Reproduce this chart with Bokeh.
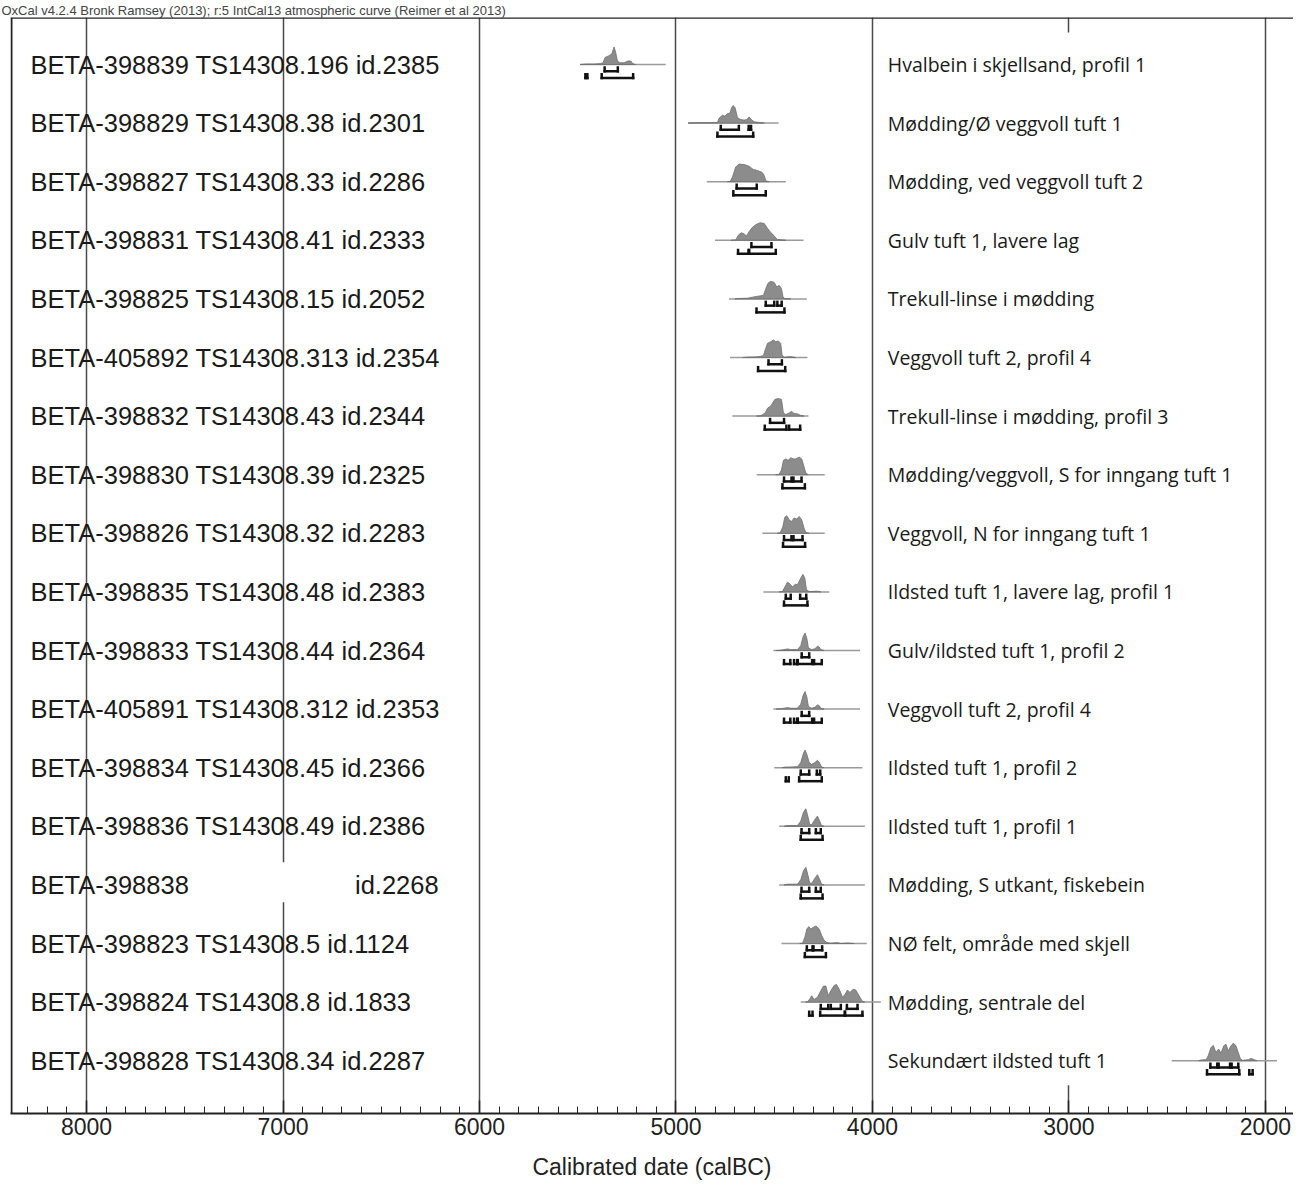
from bokeh.plotting import figure
from bokeh.models import Range1d, FixedTicker, Span
from bokeh.core.properties import value
from bokeh.embed import file_html
from bokeh.resources import INLINE

header = "OxCal v4.2.4 Bronk Ramsey (2013); r:5 IntCal13 atmospheric curve (Reimer et al 2013)"
axis_title = "Calibrated date (calBC)"
tick_years = [8000, 7000, 6000, 5000, 4000, 3000, 2000]
minor_years = list(range(1900, 8400, 100))

lab_left = [
    "BETA-398839 TS14308.196 id.2385",
    "BETA-398829 TS14308.38 id.2301",
    "BETA-398827 TS14308.33 id.2286",
    "BETA-398831 TS14308.41 id.2333",
    "BETA-398825 TS14308.15 id.2052",
    "BETA-405892 TS14308.313 id.2354",
    "BETA-398832 TS14308.43 id.2344",
    "BETA-398830 TS14308.39 id.2325",
    "BETA-398826 TS14308.32 id.2283",
    "BETA-398835 TS14308.48 id.2383",
    "BETA-398833 TS14308.44 id.2364",
    "BETA-405891 TS14308.312 id.2353",
    "BETA-398834 TS14308.45 id.2366",
    "BETA-398836 TS14308.49 id.2386",
    "BETA-398838",
    "BETA-398823 TS14308.5 id.1124",
    "BETA-398824 TS14308.8 id.1833",
    "BETA-398828 TS14308.34 id.2287",
]
lab_left_extra = "id.2268"   # right-hand part of row 15
lab_right = [
    "Hvalbein i skjellsand, profil 1",
    "Mødding/Ø veggvoll tuft 1",
    "Mødding, ved veggvoll tuft 2",
    "Gulv tuft 1, lavere lag",
    "Trekull-linse i mødding",
    "Veggvoll tuft 2, profil 4",
    "Trekull-linse i mødding, profil 3",
    "Mødding/veggvoll, S for inngang tuft 1",
    "Veggvoll, N for inngang tuft 1",
    "Ildsted tuft 1, lavere lag, profil 1",
    "Gulv/ildsted tuft 1, profil 2",
    "Veggvoll tuft 2, profil 4",
    "Ildsted tuft 1, profil 2",
    "Ildsted tuft 1, profil 1",
    "Mødding, S utkant, fiskebein",
    "NØ felt, område med skjell",
    "Mødding, sentrale del",
    "Sekundært ildsted tuft 1",
]

base_start = [5488, 4938, 4843, 4801, 4730, 4725, 4713, 4589, 4560, 4555, 4504, 4504, 4500, 4475, 4475, 4463, 4365, 2477]
base_end = [5052, 4478, 4441, 4351, 4334, 4331, 4326, 4243, 4243, 4220, 4063, 4063, 4051, 4039, 4039, 4029, 3957, 1941]

dist_years = [
    [5488, 5459, 5417, 5383, 5371, 5361, 5341, 5327, 5315, 5307, 5298, 5285, 5264, 5244, 5230, 5220, 5205],
    [4938, 4891, 4823, 4789, 4781, 4764, 4752, 4738, 4725, 4716, 4709, 4699, 4687, 4670, 4653, 4640, 4628, 4616, 4602, 4577, 4551],
    [4738, 4724, 4713, 4696, 4679, 4653, 4628, 4606, 4589, 4577, 4565, 4555, 4548, 4543, 4526],
    [4720, 4696, 4682, 4667, 4653, 4641, 4628, 4611, 4594, 4572, 4551, 4534, 4521, 4509, 4497, 4484, 4458, 4440],
    [4700, 4687, 4636, 4611, 4585, 4555, 4543, 4531, 4517, 4500, 4487, 4475, 4463, 4455, 4446, 4416],
    [4660, 4636, 4585, 4555, 4546, 4534, 4517, 4504, 4492, 4480, 4467, 4460, 4450, 4430, 4416, 4390],
    [4590, 4568, 4546, 4534, 4517, 4497, 4480, 4463, 4453, 4441, 4424, 4412, 4399, 4382, 4365, 4348],
    [4492, 4475, 4463, 4453, 4441, 4429, 4416, 4402, 4390, 4373, 4360, 4348, 4339, 4327],
    [4484, 4470, 4456, 4446, 4436, 4424, 4412, 4399, 4385, 4373, 4360, 4348, 4339, 4322],
    [4475, 4458, 4446, 4432, 4419, 4407, 4393, 4382, 4368, 4354, 4344, 4336, 4322, 4280, 4263],
    [4490, 4466, 4450, 4432, 4416, 4382, 4365, 4353, 4343, 4334, 4326, 4310, 4293, 4280, 4271, 4263, 4246],
    [4490, 4466, 4450, 4432, 4416, 4382, 4365, 4353, 4343, 4334, 4326, 4310, 4293, 4280, 4271, 4263, 4246],
    [4460, 4441, 4416, 4382, 4365, 4351, 4343, 4334, 4322, 4310, 4293, 4280, 4270, 4259, 4246],
    [4450, 4432, 4382, 4365, 4351, 4339, 4331, 4319, 4309, 4293, 4280, 4268, 4259, 4246],
    [4450, 4432, 4382, 4365, 4351, 4339, 4331, 4319, 4309, 4293, 4280, 4268, 4259, 4246],
    [4370, 4356, 4344, 4334, 4324, 4314, 4302, 4287, 4271, 4258, 4246, 4232, 4212, 4178, 4161, 4127, 4093],
    [4340, 4331, 4319, 4309, 4297, 4280, 4263, 4249, 4237, 4225, 4212, 4195, 4183, 4169, 4152, 4139, 4127, 4115, 4098, 4085, 4068, 4051, 4039],
    [2340, 2328, 2302, 2291, 2277, 2265, 2252, 2238, 2226, 2212, 2201, 2189, 2175, 2163, 2150, 2138, 2128, 2116, 2087, 2073, 2056, 2043],
]
dist_dens = [
    [0, 0.03, 0.03, 0.05, 0.1, 0.4, 0.5, 0.6, 1.0, 0.7, 0.2, 0.1, 0.1, 0.2, 0.2, 0.05, 0],
    [0, 0.02, 0.02, 0.03, 0.27, 0.45, 0.4, 0.54, 0.57, 0.9, 1.0, 0.87, 0.31, 0.2, 0.17, 0.2, 0.35, 0.2, 0.07, 0.04, 0],
    [0, 0.02, 0.25, 0.84, 1.0, 0.98, 0.88, 0.69, 0.65, 0.6, 0.55, 0.45, 0.25, 0.05, 0],
    [0, 0.02, 0.3, 0.43, 0.36, 0.25, 0.49, 0.74, 0.89, 1.0, 0.96, 0.68, 0.49, 0.36, 0.2, 0.05, 0.02, 0],
    [0, 0.02, 0.04, 0.1, 0.15, 0.2, 0.58, 0.9, 1.0, 0.94, 0.68, 0.77, 0.58, 0.1, 0.02, 0],
    [0, 0.02, 0.04, 0.1, 0.43, 0.81, 0.9, 1.0, 0.9, 0.94, 0.81, 0.15, 0.02, 0.04, 0.05, 0],
    [0, 0.02, 0.18, 0.45, 0.58, 0.95, 1.0, 0.95, 0.18, 0.09, 0.18, 0.27, 0.15, 0.13, 0.04, 0],
    [0, 0.02, 0.27, 0.82, 0.9, 0.82, 0.96, 0.9, 0.9, 1.0, 0.9, 0.45, 0.09, 0],
    [0, 0.02, 0.38, 0.92, 1.0, 0.77, 0.67, 0.87, 0.81, 0.96, 0.77, 0.29, 0.04, 0],
    [0, 0.02, 0.28, 0.56, 0.44, 0.28, 0.44, 0.41, 0.72, 1.0, 0.78, 0.13, 0.02, 0.04, 0],
    [0, 0.02, 0.05, 0.09, 0.05, 0.05, 0.27, 0.78, 1.0, 0.69, 0.15, 0.05, 0.1, 0.24, 0.2, 0.05, 0],
    [0, 0.02, 0.05, 0.09, 0.05, 0.05, 0.27, 0.78, 1.0, 0.69, 0.15, 0.05, 0.1, 0.24, 0.2, 0.05, 0],
    [0, 0.04, 0.04, 0.06, 0.29, 0.83, 1.0, 0.77, 0.29, 0.19, 0.29, 0.42, 0.29, 0.04, 0],
    [0, 0.04, 0.04, 0.29, 0.8, 1.0, 0.67, 0.1, 0.1, 0.38, 0.58, 0.29, 0.04, 0],
    [0, 0.04, 0.04, 0.29, 0.8, 1.0, 0.67, 0.1, 0.1, 0.38, 0.58, 0.29, 0.04, 0],
    [0, 0.02, 0.36, 0.82, 0.96, 0.82, 0.91, 1.0, 0.82, 0.45, 0.18, 0.05, 0.02, 0.05, 0.0, 0.03, 0],
    [0, 0.02, 0.18, 0.36, 0.15, 0.27, 0.64, 0.91, 0.91, 0.36, 0.64, 0.95, 1.0, 0.73, 0.27, 0.45, 0.69, 0.55, 0.73, 0.69, 0.36, 0.04, 0],
    [0, 0.04, 0.06, 0.28, 0.75, 0.87, 0.47, 0.66, 0.43, 0.85, 0.94, 0.57, 0.85, 1.0, 0.85, 0.47, 0.13, 0.02, 0.06, 0.13, 0.06, 0],
]
range68 = [
    [(5363, 5296)],
    [(4772, 4680), (4630, 4618)],
    [(4691, 4589)],
    [(4616, 4514)],
    [(4543, 4500), (4484, 4462)],
    [(4529, 4461)],
    [(4521, 4450)],
    [(4450, 4412), (4402, 4361)],
    [(4450, 4412), (4402, 4356)],
    [(4441, 4416), (4368, 4337)],
    [(4360, 4322)],
    [(4360, 4322)],
    [(4365, 4322), (4283, 4266)],
    [(4361, 4322), (4288, 4263)],
    [(4361, 4322), (4288, 4263)],
    [(4334, 4305), (4300, 4256)],
    [(4263, 4225), (4212, 4161), (4130, 4076)],
    [(2280, 2245), (2238, 2180), (2172, 2138)],
]
range95 = [
    [(5461, 5451), (5378, 5218)],
    [(4789, 4607)],
    [(4708, 4543)],
    [(4684, 4631), (4627, 4492)],
    [(4590, 4448)],
    [(4582, 4444)],
    [(4548, 4438), (4424, 4368)],
    [(4458, 4344)],
    [(4455, 4343)],
    [(4450, 4331)],
    [(4450, 4418), (4399, 4383), (4380, 4307), (4297, 4258)],
    [(4450, 4418), (4399, 4383), (4380, 4307), (4297, 4258)],
    [(4441, 4426), (4373, 4258)],
    [(4365, 4254)],
    [(4365, 4254)],
    [(4344, 4237)],
    [(4322, 4305), (4266, 4141), (4139, 4051)],
    [(2297, 2133), (2082, 2065)],
]

n = len(lab_left)
rows = [-i for i in range(n)]

# styling / layout constants
PEAK = 0.30
OFF68, OFF95, TICK = 0.115, 0.23, 0.065
X_LEFT_LAB, X_RIGHT_LAB, X_EXTRA = 8285, 3922, 6208
TOP_PX = 17
YTOP, YBOT = (64 - TOP_PX) / 58.6, -17.901

p = figure(width=1293, height=1186, output_backend="svg", toolbar_location=None,
           x_range=Range1d(8387, 1857), y_range=Range1d(YBOT, YTOP),
           min_border_left=10, min_border_right=0, min_border_top=TOP_PX, min_border_bottom=73,
           title=header)
p.title.text_font = "Liberation Sans"
p.title.text_font_size = "13px"
p.title.text_font_style = "normal"
p.title.text_color = "#444444"
p.title.standoff = 0
p.title.align = "left"
p.title.offset = -9
p.outline_line_color = None
p.background_fill_color = "white"
p.border_fill_color = "white"
p.yaxis.visible = False
p.ygrid.visible = False
p.xgrid.ticker = FixedTicker(ticks=tick_years)
p.xgrid.grid_line_color = "#4a4a4a"
p.xgrid.grid_line_width = 1.5

ax = p.xaxis[0]
ax.ticker = FixedTicker(ticks=tick_years, minor_ticks=minor_years)
ax.major_tick_in = 13
ax.major_tick_out = 0
ax.minor_tick_in = 7
ax.minor_tick_out = 0
ax.major_tick_line_width = 1.5
ax.minor_tick_line_width = 1
ax.major_tick_line_color = "#222222"
ax.minor_tick_line_color = "#222222"
ax.axis_line_width = 2
ax.axis_line_color = "#222222"
ax.major_label_text_font = "Liberation Sans"
ax.major_label_text_font_size = "23px"
ax.major_label_text_color = "#222222"
ax.major_label_standoff = 4
ax.axis_label = axis_title
ax.axis_label_text_font = "Liberation Sans"
ax.axis_label_text_font_size = "23px"
ax.axis_label_text_font_style = "normal"
ax.axis_label_text_color = "#222222"
ax.axis_label_standoff = 16

# borders (left, top)
p.add_layout(Span(location=8382, dimension="height", line_color="#222222", line_width=2))
p.add_layout(Span(location=YTOP - 0.006, dimension="width", line_color="#222222", line_width=2))

# white boxes behind label areas (hide grid line)
p.quad(left=[3960], right=[2560], top=[0.546], bottom=[-17.42], fill_color="white", line_color=None)
p.quad(left=[7350], right=[6600], top=[-14 + 0.386], bottom=[-14 - 0.297], fill_color="white", line_color=None)

# baselines
p.segment(x0=base_start, y0=rows, x1=base_end, y1=rows, line_color="#9a9a9a", line_width=1.5)

# distributions
xs, ys = [], []
for i in range(n):
    xs.append(list(dist_years[i]))
    ys.append([rows[i] + d * PEAK for d in dist_dens[i]])
p.patches(xs=xs, ys=ys, fill_color="#8c8c8c", line_color="#6f6f6f", line_width=0.8)

# brackets
sx0, sy0, sx1, sy1 = [], [], [], []
for i in range(n):
    for rng, off in ((range68[i], OFF68), (range95[i], OFF95)):
        yb = rows[i] - off
        for a, b in rng:
            sx0 += [a, a, b]
            sy0 += [yb, yb, yb]
            sx1 += [b, a, b]
            sy1 += [yb, yb + TICK, yb + TICK]
p.segment(x0=sx0, y0=sy0, x1=sx1, y1=sy1, line_color="#111111", line_width=2.5, line_cap="square")

# labels
p.text(x=[X_LEFT_LAB] * n, y=rows, text=lab_left, text_font=value("Liberation Sans"),
       text_font_size="25.5px", text_baseline="middle", text_align="left", text_color="#1a1a1a")
p.text(x=[X_EXTRA], y=[rows[14]], text=[lab_left_extra], text_font=value("Liberation Sans"),
       text_font_size="25.5px", text_baseline="middle", text_align="right", text_color="#1a1a1a")
p.text(x=[X_RIGHT_LAB] * n, y=rows, text=lab_right, text_font=value("Open Sans"),
       text_font_size="19.5px", text_baseline="middle", text_align="left", text_color="#1a1a1a")

open("out.html", "w").write(file_html(p, INLINE))
